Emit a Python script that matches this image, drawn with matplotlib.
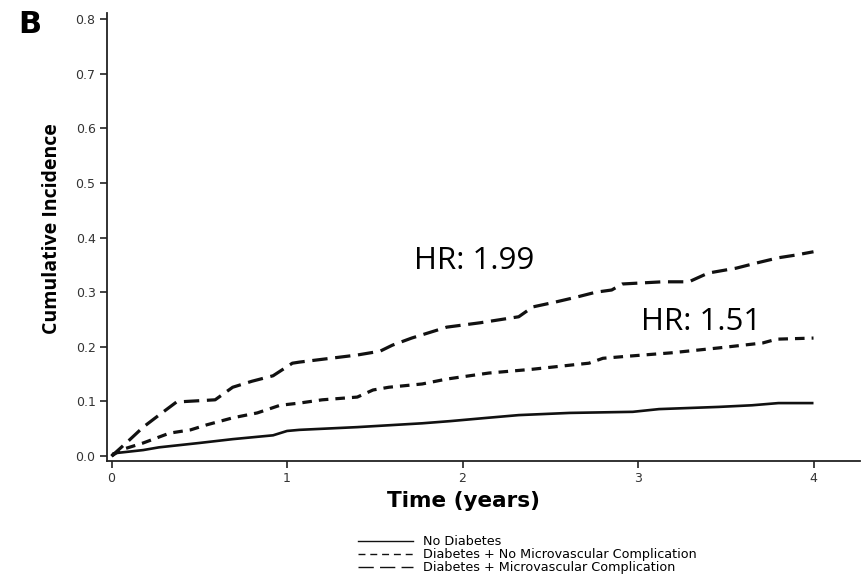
import matplotlib
matplotlib.use("Agg")
import matplotlib.pyplot as plt
from matplotlib.lines import Line2D

# Cumulative incidence over follow-up (years)
t_none = [0.00, 0.01, 0.18, 0.27, 0.50, 0.69, 0.92, 1.00, 1.07, 1.40, 1.77, 1.93,
          2.14, 2.32, 2.61, 2.97, 3.12, 3.46, 3.65, 3.80, 4.00]
ci_none = [0.000, 0.005, 0.011, 0.016, 0.024, 0.031, 0.038, 0.046, 0.048, 0.053, 0.060, 0.064,
           0.070, 0.075, 0.079, 0.081, 0.086, 0.090, 0.093, 0.097, 0.097]

t_dm = [0.00, 0.05, 0.18, 0.33, 0.45, 0.54, 0.69, 0.83, 0.96, 1.07, 1.20, 1.40, 1.49,
        1.58, 1.77, 1.91, 2.04, 2.15, 2.40, 2.63, 2.72, 2.80, 2.95, 3.19, 3.46, 3.71,
        3.79, 4.00]
ci_dm = [0.000, 0.011, 0.024, 0.042, 0.048, 0.057, 0.070, 0.079, 0.093, 0.097, 0.103, 0.108,
         0.121, 0.126, 0.132, 0.141, 0.147, 0.152, 0.159, 0.167, 0.170, 0.179, 0.183, 0.189,
         0.198, 0.207, 0.214, 0.216]

t_dm_micro = [0.00, 0.10, 0.18, 0.27, 0.37, 0.59, 0.69, 0.80, 0.92, 1.03, 1.07, 1.40, 1.53,
              1.60, 1.71, 1.91, 2.10, 2.32, 2.40, 2.53, 2.65, 2.76, 2.85, 2.91, 3.14, 3.29,
              3.40, 3.56, 3.67, 3.80, 3.90, 4.00]
ci_dm_micro = [0.000, 0.029, 0.053, 0.075, 0.099, 0.103, 0.126, 0.137, 0.147, 0.170, 0.172,
               0.185, 0.192, 0.203, 0.216, 0.236, 0.244, 0.255, 0.273, 0.282, 0.291, 0.300,
               0.304, 0.315, 0.319, 0.319, 0.335, 0.344, 0.353, 0.363, 0.368, 0.374]

labels = ["No Diabetes",
          "Diabetes + No Microvascular Complication",
          "Diabetes + Microvascular Complication"]

x_ticks = [0, 1, 2, 3, 4]
y_ticks = [0.0, 0.1, 0.2, 0.3, 0.4, 0.5, 0.6, 0.7, 0.8]
y_tick_labels = ["0.0", "0.1", "0.2", "0.3", "0.4", "0.5", "0.6", "0.7", "0.8"]

hr_texts = ["HR: 1.99", "HR: 1.51"]
hr_pos = [(1.726, 0.342), (3.018, 0.231)]

W, H = 861, 577
fig = plt.figure(figsize=(W / 100, H / 100), dpi=100)
ax = fig.add_axes([106.7 / W, 1 - 461 / H, (W - 1 - 106.7) / W, (461 - 13) / H])

ink = "#111111"
ax.plot(t_none, ci_none, color=ink, lw=1.9, solid_capstyle="butt")
ax.plot(t_dm, ci_dm, color=ink, lw=2.3, linestyle=(0, (3.0, 2.2)))
ax.plot(t_dm_micro, ci_dm_micro, color=ink, lw=2.3, linestyle=(0, (4.8, 2.4)))

ax.set_xlim(-0.028, 4.265)
ax.set_ylim(-0.009, 0.811)

for side in ("top", "right"):
    ax.spines[side].set_visible(False)
for side in ("left", "bottom"):
    ax.spines[side].set_linewidth(1.3)
    ax.spines[side].set_color("#222222")

ax.set_xticks(x_ticks)
ax.set_xticklabels([str(v) for v in x_ticks])
ax.set_yticks(y_ticks)
ax.set_yticklabels(y_tick_labels)
ax.tick_params(axis="both", direction="out", length=5, width=1.2, color="#222222",
               labelsize=9, labelcolor="#333333")
ax.tick_params(axis="y", pad=3)
ax.tick_params(axis="x", pad=3)

ax.set_xlabel("Time (years)", fontsize=15.5, fontweight="bold", family="DejaVu Sans")
ax.xaxis.set_label_coords(0.4737, -0.066)
ax.set_ylabel("Cumulative Incidence", fontsize=14, fontweight="bold", family="Open Sans")
ax.yaxis.set_label_coords(-0.059, 0.518)

for txt, (x, y) in zip(hr_texts, hr_pos):
    ax.text(x, y, txt, fontsize=22.5, family="Open Sans", color="black",
            ha="left", va="baseline")

fig.text(18 / W, 1 - 10 / H, "B", fontsize=22, fontweight="bold",
         family="DejaVu Sans", ha="left", va="top")

handles = [
    Line2D([], [], color=ink, lw=1.0),
    Line2D([], [], color=ink, lw=1.0, linestyle=(0, (5, 3.5))),
    Line2D([], [], color=ink, lw=1.0, linestyle=(0, (11, 4.5))),
]
fig.legend(handles, labels, loc="upper left", bbox_to_anchor=(358 / W, 1 - 535 / H),
           frameon=False, handlelength=4.3, handletextpad=0.8,
           labelspacing=0.0, borderpad=0, borderaxespad=0,
           prop={"family": "DejaVu Sans", "size": 9.2})

fig.savefig("out.png", dpi=100)
